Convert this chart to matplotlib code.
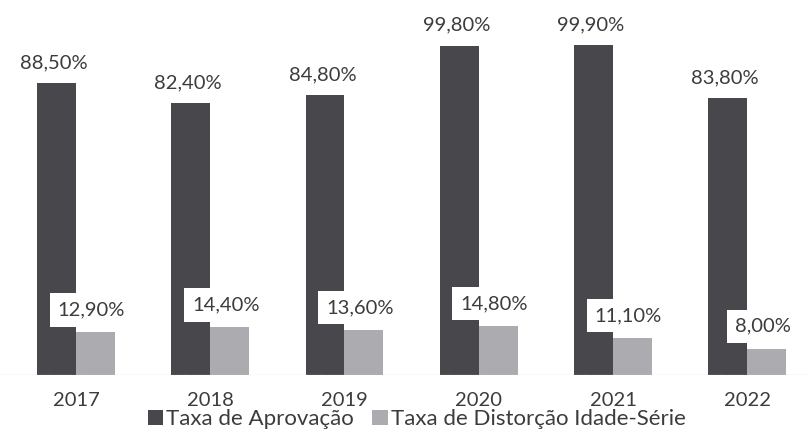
import matplotlib
matplotlib.use("Agg")
import matplotlib.pyplot as plt
import numpy as np

plt.rcParams['font.family'] = ['Lato', 'DejaVu Sans']

# dados
anos = ["2017", "2018", "2019", "2020", "2021", "2022"]
aprovacao = [88.5, 82.4, 84.8, 99.8, 99.9, 83.8]
distorcao = [12.9, 14.4, 13.6, 14.8, 11.1, 8.0]
rotulos_aprov = ["88,50%", "82,40%", "84,80%", "99,80%", "99,90%", "83,80%"]
rotulos_dist = ["12,90%", "14,40%", "13,60%", "14,80%", "11,10%", "8,00%"]

cor_escura = "#48484c"
cor_clara = "#acacb0"
cor_texto = "#3c3c3c"

fig = plt.figure(figsize=(8.09, 4.34), dpi=100)
ax = fig.add_axes([0, 0.136, 1, 0.864])

x = np.arange(len(anos))
w = 0.29
ax.bar(x - w/2, aprovacao, w, color=cor_escura, label="Taxa de Aprovação")
ax.bar(x + w/2, distorcao, w, color=cor_clara, label="Taxa de Distorção Idade-Série")

for i in range(len(anos)):
    ax.text(x[i] - w/2 - 0.02, aprovacao[i] + 6.2, rotulos_aprov[i], ha="center", va="center",
            fontsize=14.5, color=cor_texto)
    ax.text(x[i] + w/2 - 0.03, distorcao[i] + 6.8, rotulos_dist[i], ha="center", va="center",
            fontsize=14.5, color=cor_texto,
            bbox=dict(boxstyle="square,pad=0.4", fc="white", ec="none"))

ax.set_xlim(-0.566, 5.46)
ax.set_ylim(0, 113.6)
ax.axhline(0, color="#c8c8c8", lw=1, ls=(0, (1, 1)))

ax.set_xticks(x)
ax.set_xticklabels(anos, fontsize=14.5, color=cor_texto)
ax.tick_params(axis="x", length=0, pad=12)
ax.set_yticks([])
for s in ax.spines.values():
    s.set_visible(False)

fig.legend(loc="lower center", bbox_to_anchor=(0.515, -0.035), ncol=2, frameon=False,
           fontsize=16, handlelength=0.7, handleheight=0.7, handletextpad=0.15,
           columnspacing=0.8, labelcolor=cor_texto)

fig.savefig("out.png", dpi=100, facecolor="white")
